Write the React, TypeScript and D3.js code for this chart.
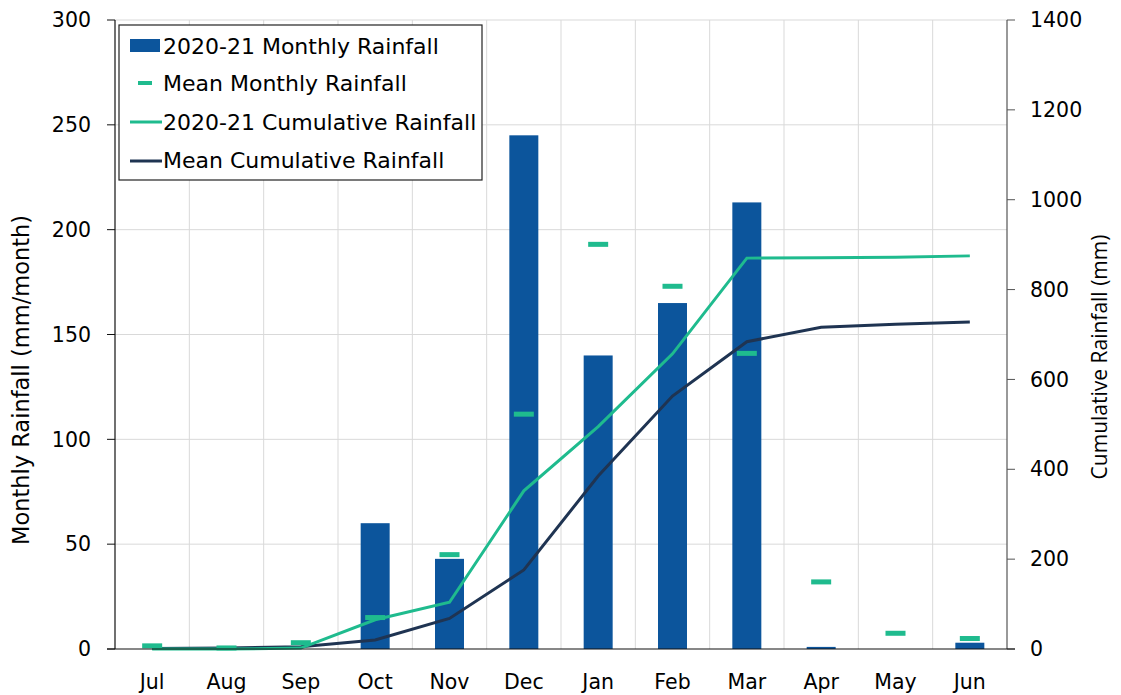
import React from 'react';
import * as d3 from 'd3';

const months = ['Jul', 'Aug', 'Sep', 'Oct', 'Nov', 'Dec', 'Jan', 'Feb', 'Mar', 'Apr', 'May', 'Jun'];
const monthlyRain = [0, 0, 0, 60, 43, 245, 140, 165, 213, 1, 0, 3];
const meanMonthly = [1.5, 0.5, 3, 15, 45, 112, 193, 173, 141, 32, 7.5, 5];
const cumRain = [0, 0, 2, 65, 104, 352, 495, 657, 870, 871, 872, 875];
const meanCum = [1, 2, 5, 20, 68, 176, 385, 563, 684, 716, 723, 728];
const leftTicks = [0, 50, 100, 150, 200, 250, 300];
const rightTicks = [0, 200, 400, 600, 800, 1000, 1200, 1400];
const legendLabels = ['2020-21 Monthly Rainfall', 'Mean Monthly Rainfall', '2020-21 Cumulative Rainfall', 'Mean Cumulative Rainfall'];

const BAR = '#0c559c';
const GREEN = '#1fbb8e';
const NAVY = '#1f3452';
const FONT = '"DejaVu Sans", Verdana, sans-serif';

const App = () => {
  const left = 115, right = 1007, top = 20, bottom = 649;

  const x = d3.scaleBand<string>().domain(months).range([left, right]);
  const yL = d3.scaleLinear().domain([0, 300]).range([bottom, top]);
  const yR = d3.scaleLinear().domain([0, 1400]).range([bottom, top]);
  const cx = (m: string) => (x(m) as number) + x.bandwidth() / 2;
  const barW = x.bandwidth() * 0.39;

  const lineGen = (vals: number[]) =>
    d3.line<number>()
      .x((_, i) => cx(months[i]))
      .y(d => yR(d))(vals) as string;

  return (
    <div style={{ position: 'absolute', left: 0, top: 0 }}>
      <svg width={1121} height={695} style={{ display: 'block', background: '#fff' }}>
        {/* grid */}
        {leftTicks.filter(t => t > 0).map(t => (
          <line key={'h' + t} x1={left} x2={right} y1={yL(t)} y2={yL(t)} stroke="#d9d9d9" strokeWidth={1} />
        ))}
        {months.slice(1).map(m => (
          <line key={'v' + m} x1={x(m)} x2={x(m)} y1={top} y2={bottom} stroke="#d9d9d9" strokeWidth={1} />
        ))}

        {/* bars */}
        {months.map((m, i) => (
          <rect key={'b' + m} x={cx(m) - barW / 2} y={yL(monthlyRain[i])} width={barW}
            height={bottom - yL(monthlyRain[i])} fill={BAR} />
        ))}

        {/* cumulative lines */}
        <path d={lineGen(meanCum)} fill="none" stroke={NAVY} strokeWidth={3} />
        <path d={lineGen(cumRain)} fill="none" stroke={GREEN} strokeWidth={3} />

        {/* mean monthly dashes */}
        {months.map((m, i) => (
          <rect key={'d' + m} x={cx(m) - 10} y={yL(meanMonthly[i]) - 2.5} width={20} height={5} fill={GREEN} />
        ))}

        {/* left axis */}
        <line x1={left} x2={left} y1={top} y2={bottom} stroke="#111" strokeWidth={1.2} />
        {leftTicks.map(t => (
          <g key={'lt' + t}>
            <line x1={left - 8} x2={left} y1={yL(t)} y2={yL(t)} stroke="#111" />
            <text x={91} y={yL(t)} dy="0.35em" textAnchor="end" fontFamily={FONT} fontSize={20.5} fill="#000">{t}</text>
          </g>
        ))}
        {/* right axis */}
        <line x1={right} x2={right} y1={top} y2={bottom} stroke="#555" strokeWidth={1.2} />
        {rightTicks.map(t => (
          <g key={'rt' + t}>
            <line x1={right} x2={right + 8} y1={yR(t)} y2={yR(t)} stroke="#555" />
            <text x={1030} y={yR(t)} dy="0.35em" textAnchor="start" fontFamily={FONT} fontSize={20.5} fill="#000">{t}</text>
          </g>
        ))}
        {/* bottom axis */}
        <line x1={left - 8} x2={right + 8} y1={bottom} y2={bottom} stroke="#111" strokeWidth={1.2} />
        {months.map(m => (
          <text key={'xl' + m} x={cx(m)} y={689} textAnchor="middle" fontFamily={FONT} fontSize={20.5} fill="#000">{m}</text>
        ))}

        {/* axis titles */}
        <text transform="translate(29,380) rotate(-90)" textAnchor="middle" fontFamily={FONT} fontSize={22.5} fill="#000">
          Monthly Rainfall (mm/month)
        </text>
        <text transform="translate(1107,357) rotate(-90)" textAnchor="middle" fontFamily='"Open Sans", sans-serif' fontSize={21} fill="#000">
          Cumulative Rainfall (mm)
        </text>

        {/* legend */}
        <rect x={119} y={25} width={363} height={155} fill="#fff" stroke="#222" strokeWidth={1.2} />
        <rect x={130} y={39} width={30} height={13} fill={BAR} />
        <rect x={138} y={81} width={14} height={4} fill={GREEN} />
        <line x1={130} x2={162} y1={122} y2={122} stroke={GREEN} strokeWidth={3} />
        <line x1={130} x2={162} y1={161} y2={161} stroke={NAVY} strokeWidth={3} />
        {legendLabels.map((s, i) => (
          <text key={s} x={163} y={[46, 83, 122, 160][i]} dy="0.35em" fontFamily={FONT} fontSize={22} fill="#000">{s}</text>
        ))}
      </svg>
    </div>
  );
};

export default App;
